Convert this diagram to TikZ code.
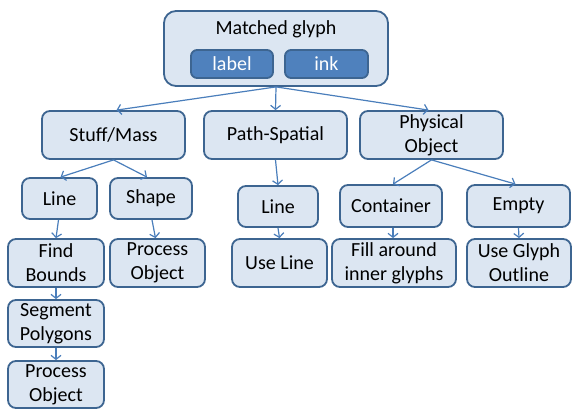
\documentclass[tikz,border=0pt]{standalone}
\usepackage{fontspec}
\setmainfont{Carlito}
\usetikzlibrary{arrows.meta}
\definecolor{boxfill}{HTML}{DCE6F2}
\definecolor{boxline}{HTML}{3D6591}
\definecolor{arrowcol}{HTML}{4A7EBB}
\definecolor{tagfill}{HTML}{4F81BD}
\begin{document}
\begin{tikzpicture}[x=1pt,y=-1pt,
  box/.style={draw=boxline,fill=boxfill,line width=1.8pt,rounded corners=8pt,
    inner sep=0pt,align=center,font=\fontsize{20}{24}\selectfont},
  tag/.style={draw=boxline,fill=tagfill,line width=1.8pt,rounded corners=6pt,
    inner sep=0pt,text=white,font=\fontsize{20}{24}\selectfont,
    minimum width=82pt,minimum height=28pt},
  link/.style={draw=arrowcol,line width=1.2pt,-{Straight Barb[length=4pt,width=10pt,line width=1.2pt]}}]
\useasboundingbox (0,0) rectangle (575,409);

% root node with its two tags
\node[box,rounded corners=12pt,minimum width=224pt,minimum height=75pt] (root) at (276,48.5) {};
\node[font=\fontsize{20}{24}\selectfont,inner sep=0pt,anchor=base] (roottext) at (276,35) {Matched glyph};
\node[tag] (label) at (232,64) {label};
\node[tag,minimum width=83pt] (ink) at (326.5,64) {ink};

% second level
\node[box,minimum width=143pt,minimum height=48pt] (stuff) at (113.5,135) {Stuff/Mass};
\node[box,minimum width=143pt,minimum height=48pt] (path) at (275.5,135) {Path-Spatial};
\node[box,minimum width=143pt,minimum height=48pt] (phys) at (431.5,135) {Physical\\Object};

% third level
\node[box,minimum width=75pt,minimum height=41pt] (lineA) at (59.5,198.5) {Line};
\node[box,minimum width=82pt,minimum height=41pt] (shape) at (151,198.5) {Shape};
\node[box,minimum width=80pt,minimum height=41pt] (lineB) at (278,206.5) {Line};
\node[box,minimum width=102pt,minimum height=42pt] (cont) at (391,206) {Container};
\node[box,minimum width=103pt,minimum height=42pt] (empty) at (518.5,206) {Empty};

% fourth level
\node[box,minimum width=96pt,minimum height=48pt] (bounds) at (56,263) {Find\\Bounds};
\node[box,minimum width=95pt,minimum height=48pt] (procA) at (157.5,263) {Process\\Object};
\node[box,minimum width=95pt,minimum height=48pt] (useline) at (279.5,263) {Use Line};
\node[box,minimum width=124pt,minimum height=48pt] (fill) at (394,263) {Fill around\\inner glyphs};
\node[box,minimum width=104pt,minimum height=48pt] (outline) at (519,263) {Use Glyph\\Outline};

% left chain
\node[box,minimum width=96pt,minimum height=47pt] (seg) at (56,323.5) {Segment\\Polygons};
\node[box,minimum width=96pt,minimum height=47pt] (procB) at (56,384.5) {Process\\Object};

% connectors
\draw[link] (root.south) -- ([xshift=3pt]stuff.north);
\draw[link] (root.south) -- (path.north);
\draw[link] (root.south) -- ([xshift=-3pt]phys.north);
\draw[link] (stuff.south) -- ([xshift=1pt]lineA.north);
\draw[link] (stuff.south) -- ([xshift=-4pt]shape.north);
\draw[link] (path.south) -- (lineB.north);
\draw[link] (phys.south) -- ([xshift=2pt]cont.north);
\draw[link] (phys.south) -- ([xshift=-3pt]empty.north);
\draw[link] ([xshift=-1pt]lineA.south) -- (bounds.north);
\draw[link] ([xshift=1pt]shape.south) -- ([xshift=-2pt]procA.north);
\draw[link] (lineB.south) -- (useline.north);
\draw[link] ([xshift=2pt]cont.south) -- ([xshift=-1pt]fill.north);
\draw[link] (empty.south) -- (outline.north);
\draw[link] (bounds.south) -- (seg.north);
\draw[link] (seg.south) -- (procB.north);
\end{tikzpicture}
\end{document}
